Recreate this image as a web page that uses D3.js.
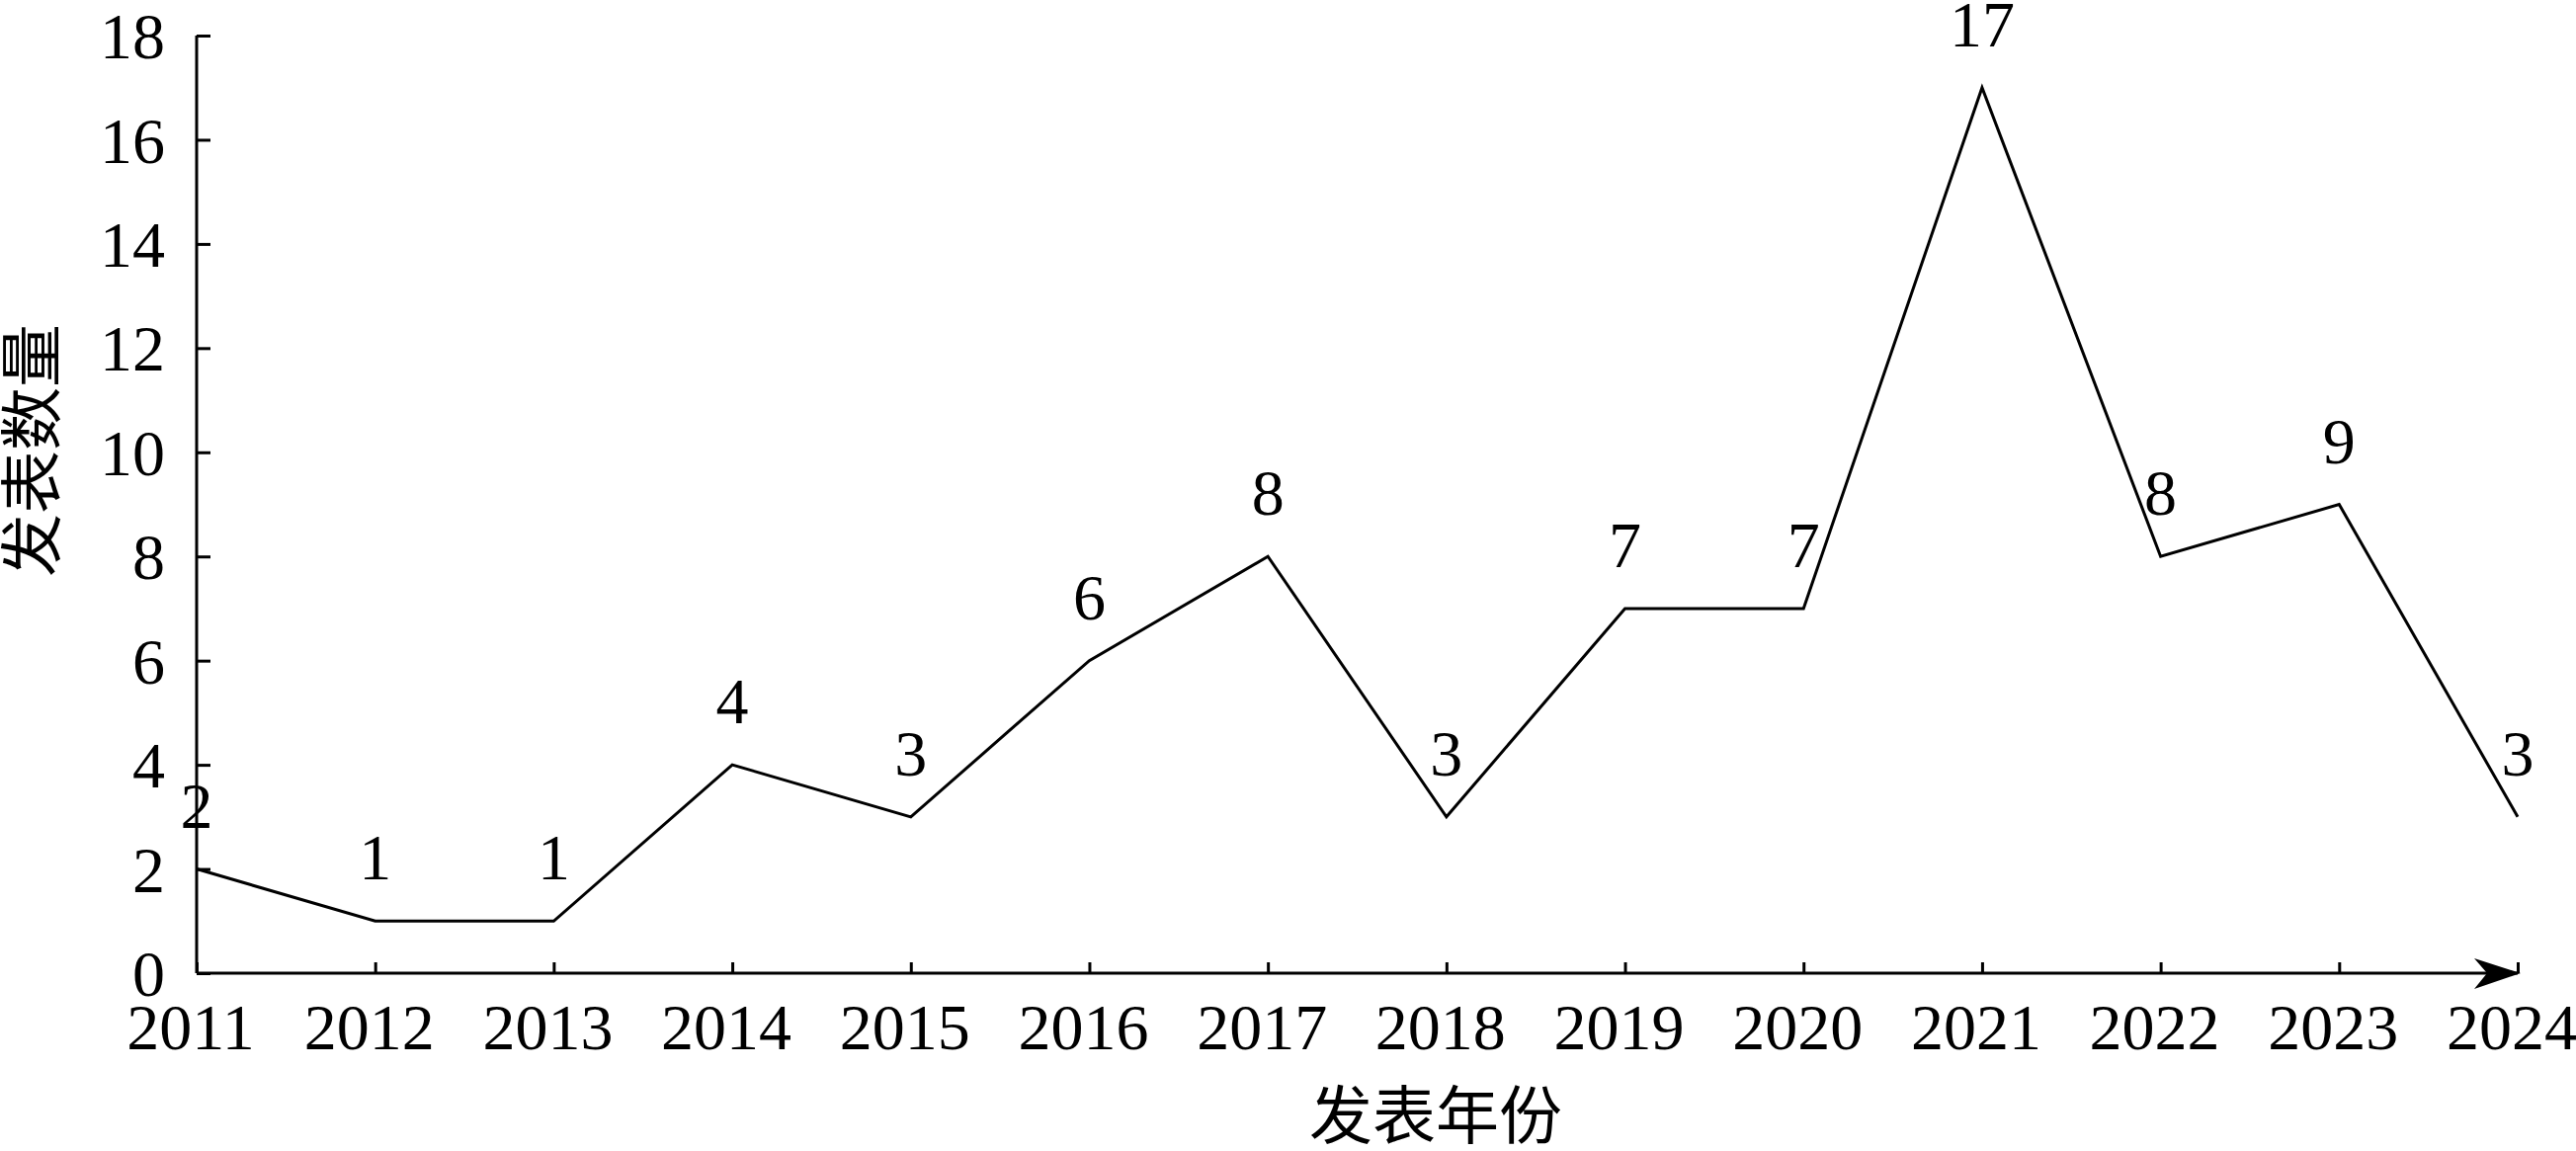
<!DOCTYPE html>
<html>
<head>
<meta charset="utf-8">
<script src="https://cdn.jsdelivr.net/npm/d3@7"></script>
<style>
  html, body { margin: 0; padding: 0; background: #fff; }
  svg { display: block; }
</style>
</head>
<body>
<svg id="chart" width="2607" height="1165"></svg>
<script>
const years = [2011, 2012, 2013, 2014, 2015, 2016, 2017, 2018, 2019, 2020, 2021, 2022, 2023, 2024];
const counts = [2, 1, 1, 4, 3, 6, 8, 3, 7, 7, 17, 8, 9, 3];
const yTicks = [0, 2, 4, 6, 8, 10, 12, 14, 16, 18];
const xTitle = "发表年份";
const yTitle = "发表数量";

const plotLeft = 199, plotRight = 2548, plotTop = 36, plotBottom = 985;
const serif = "'Liberation Serif', 'Times New Roman', serif";
const cjk = "'Noto Sans CJK SC', sans-serif";
const fs = 66;

const svg = d3.select("#chart");
const x = d3.scaleLinear().domain([years[0], years[years.length - 1]]).range([plotLeft, plotRight]);
const y = d3.scaleLinear().domain([0, 18]).range([plotBottom, plotTop]);

// y axis
const yAxis = d3.axisRight(y).tickValues(yTicks).tickSize(14).tickFormat("");
const gy = svg.append("g").attr("transform", `translate(${plotLeft},0)`).call(yAxis);
gy.select(".domain").attr("d", `M0,${plotTop}V${plotBottom}`).attr("stroke", "#000").attr("stroke-width", 3).attr("fill", "none");
gy.selectAll(".tick line").attr("stroke", "#000").attr("stroke-width", 3);

svg.append("g").selectAll("text").data(yTicks).join("text")
  .attr("x", plotLeft - 32).attr("y", d => y(d))
  .attr("dy", "0.35em")
  .attr("text-anchor", "end")
  .attr("font-family", serif).attr("font-size", fs)
  .text(d => d);

// x axis
const xAxis = d3.axisTop(x).tickValues(years).tickSize(11).tickFormat("");
const gx = svg.append("g").attr("transform", `translate(0,${plotBottom})`).call(xAxis);
gx.select(".domain").attr("d", `M${plotLeft},0H${plotRight}`).attr("stroke", "#000").attr("stroke-width", 3).attr("fill", "none");
gx.selectAll(".tick line").attr("stroke", "#000").attr("stroke-width", 3);

// arrowhead at end of x axis
const ax = x(years[years.length - 1]) + 3;
svg.append("path")
  .attr("d", `M${ax},${plotBottom} L${ax - 47},${plotBottom - 15} L${ax - 34},${plotBottom} L${ax - 47},${plotBottom + 16} Z`)
  .attr("fill", "#000");

svg.append("g").selectAll("text").data(years).join("text")
  .attr("x", d => x(d) - 6).attr("y", 1062)
  .attr("text-anchor", "middle")
  .attr("font-family", serif).attr("font-size", fs)
  .text(d => d);

// line
const line = d3.line().x((d, i) => x(years[i])).y(d => y(d));
svg.append("path").datum(counts)
  .attr("d", line)
  .attr("fill", "none").attr("stroke", "#000").attr("stroke-width", 3)
  .attr("stroke-linejoin", "miter");

// data labels
svg.append("g").selectAll("text").data(counts).join("text")
  .attr("x", (d, i) => x(years[i]))
  .attr("y", d => y(d) - 42)
  .attr("text-anchor", "middle")
  .attr("font-family", serif).attr("font-size", fs)
  .text(d => d);

// axis titles
svg.append("text")
  .attr("x", 1453).attr("y", 1152)
  .attr("text-anchor", "middle")
  .attr("font-family", cjk).attr("font-size", 64)
  .text(xTitle);

svg.append("text")
  .attr("transform", `translate(55,456) rotate(-90)`)
  .attr("text-anchor", "middle")
  .attr("font-family", cjk).attr("font-size", 64)
  .text(yTitle);
</script>
</body>
</html>
